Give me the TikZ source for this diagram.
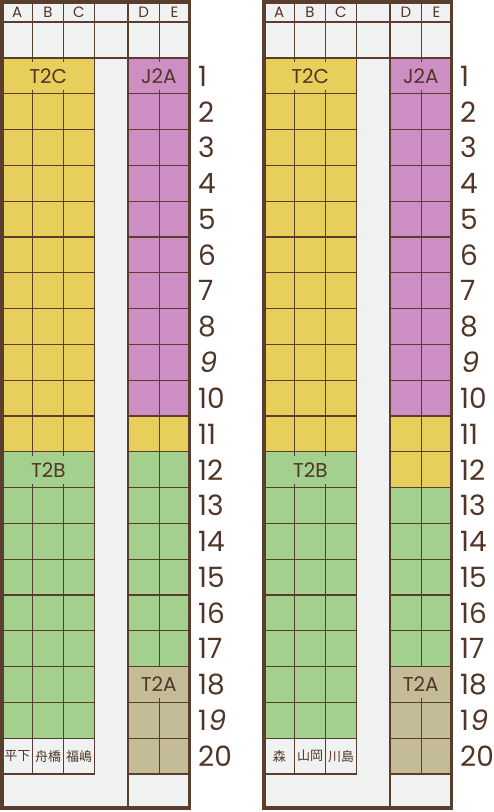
\documentclass[tikz,border=0pt]{standalone}
\usepackage{fontspec}
\setmainfont{Poppins}
\newfontfamily\jpfont{Noto Sans CJK JP}
\newfontface\slantnine{Poppins}[FakeSlant=0.18]
\definecolor{seatyellow}{RGB}{232,206,91}
\definecolor{seatpurple}{RGB}{205,143,195}
\definecolor{seatgreen}{RGB}{163,209,141}
\definecolor{seatkhaki}{RGB}{195,188,151}
\definecolor{seatbg}{RGB}{240,242,241}
\definecolor{linebrown}{RGB}{90,61,45}
\definecolor{textbrown}{RGB}{80,53,40}
\tikzset{
  thinline/.style={draw=linebrown, line width=1.1pt},
  thickline/.style={draw=linebrown, line width=2.7pt},
  frameline/.style={draw=linebrown, line width=3.2pt},
  headtext/.style={text=textbrown, inner sep=0pt, font=\fontsize{15}{16}\selectfont},
  grouptext/.style={text=textbrown, inner sep=0pt, font=\fontsize{20}{22}\selectfont},
  rownum/.style={text=textbrown, inner sep=0pt, anchor=west, font=\fontsize{28}{30}\selectfont},
  nametext/.style={text=textbrown, inner sep=0pt, font=\jpfont\fontsize{13}{14}\selectfont},
}
% #1 x shift, #2 last yellow row in D-E, #3 #4 #5 names, #6 prefix
\newcommand\seatchart[6]{%
\begin{scope}[shift={(#1,0)}]
  % fills
  \fill[seatbg] (2,2) rectangle (189.5,808);
  \fill[seatyellow] (2,58) rectangle (94.5,{58+35.8*11});
  \fill[seatgreen] (2,{58+35.8*11}) rectangle (94.5,{58+35.8*19});
  \fill[seatpurple] (128,58) rectangle (189.5,{58+35.8*10});
  \fill[seatyellow] (128,{58+35.8*10}) rectangle (189.5,{58+35.8*#2});
  \fill[seatgreen] (128,{58+35.8*#2}) rectangle (189.5,{58+35.8*17});
  \fill[seatkhaki] (128,{58+35.8*17}) rectangle (189.5,{58+35.8*20});
  % horizontal thin lines
  \foreach \k in {1,...,20}{
    \draw[thinline] (2,{58+35.8*\k}) -- (94.5,{58+35.8*\k});
    \draw[thinline] (128,{58+35.8*\k}) -- (189.5,{58+35.8*\k});
  }
  % vertical thin lines A|B and B|C
  \foreach \c in {32.5,63.5}{
    \draw[thinline] (\c,2) -- (\c,62);
    \draw[thinline] (\c,{58+35.8-4}) -- (\c,{58+35.8*11+4});
    \draw[thinline] (\c,{58+35.8*12-4}) -- (\c,{58+35.8*20});
  }
  % D|E
  \draw[thinline] (159.5,2) -- (159.5,62);
  \draw[thinline] (159.5,{58+35.8-4}) -- (159.5,{58+35.8*17});
  \draw[thinline] (159.5,{58+35.8*18-4}) -- (159.5,{58+35.8*20});
  % aisle
  \draw[thinline] (94.5,2) -- (94.5,{58+35.8*20});
  \draw[thinline] (128,2) -- (128,808);
  % thick lines
  \draw[thickline] (2,22) -- (189.5,22);
  \draw[thickline] (2,58) -- (189.5,58);
  \draw[frameline] (2,2) rectangle (189.5,808);
  % header
  \node[headtext] (#6hA) at (17.3,12.3) {A};
  \node[headtext] (#6hB) at (48,12.3) {B};
  \node[headtext] (#6hC) at (79,12.3) {C};
  \node[headtext] (#6hD) at (143.8,12.3) {D};
  \node[headtext] (#6hE) at (174.5,12.3) {E};
  % group labels
  \node[grouptext] (#6T2C) at (48.3,{58+35.8*0.5}) {T2C};
  \node[grouptext] (#6J2A) at (158.8,{58+35.8*0.5}) {J2A};
  \node[grouptext] (#6T2B) at (48.3,{58+35.8*11.5}) {T2B};
  \node[grouptext] (#6T2A) at (158.8,{58+35.8*17.5}) {T2A};
  % names
  \node[nametext] (#6nA) at (17.3,{58+35.8*19.5}) {#3};
  \node[nametext] (#6nB) at (48,{58+35.8*19.5}) {#4};
  \node[nametext] (#6nC) at (79,{58+35.8*19.5}) {#5};
  % row numbers
  \foreach \i in {1,...,8,10,11,12,13,14,15,16,17,18,20}{
    \node[rownum] (#6row\i) at (198,{58+35.8*(\i-0.5)}) {\i};
  }
  \node[rownum] (#6row9) at (198,{58+35.8*8.5}) {\slantnine 9};
  \node[rownum] (#6row19) at (198,{58+35.8*18.5}) {1{\slantnine 9}};
\end{scope}}
\begin{document}
\begin{tikzpicture}[x=1pt,y=-1pt]
\useasboundingbox (0,0) rectangle (494,812);
\seatchart{0}{11}{平下}{舟橋}{福嶋}{l}
\seatchart{262}{12}{森}{山岡}{川島}{r}
\end{tikzpicture}
\end{document}
